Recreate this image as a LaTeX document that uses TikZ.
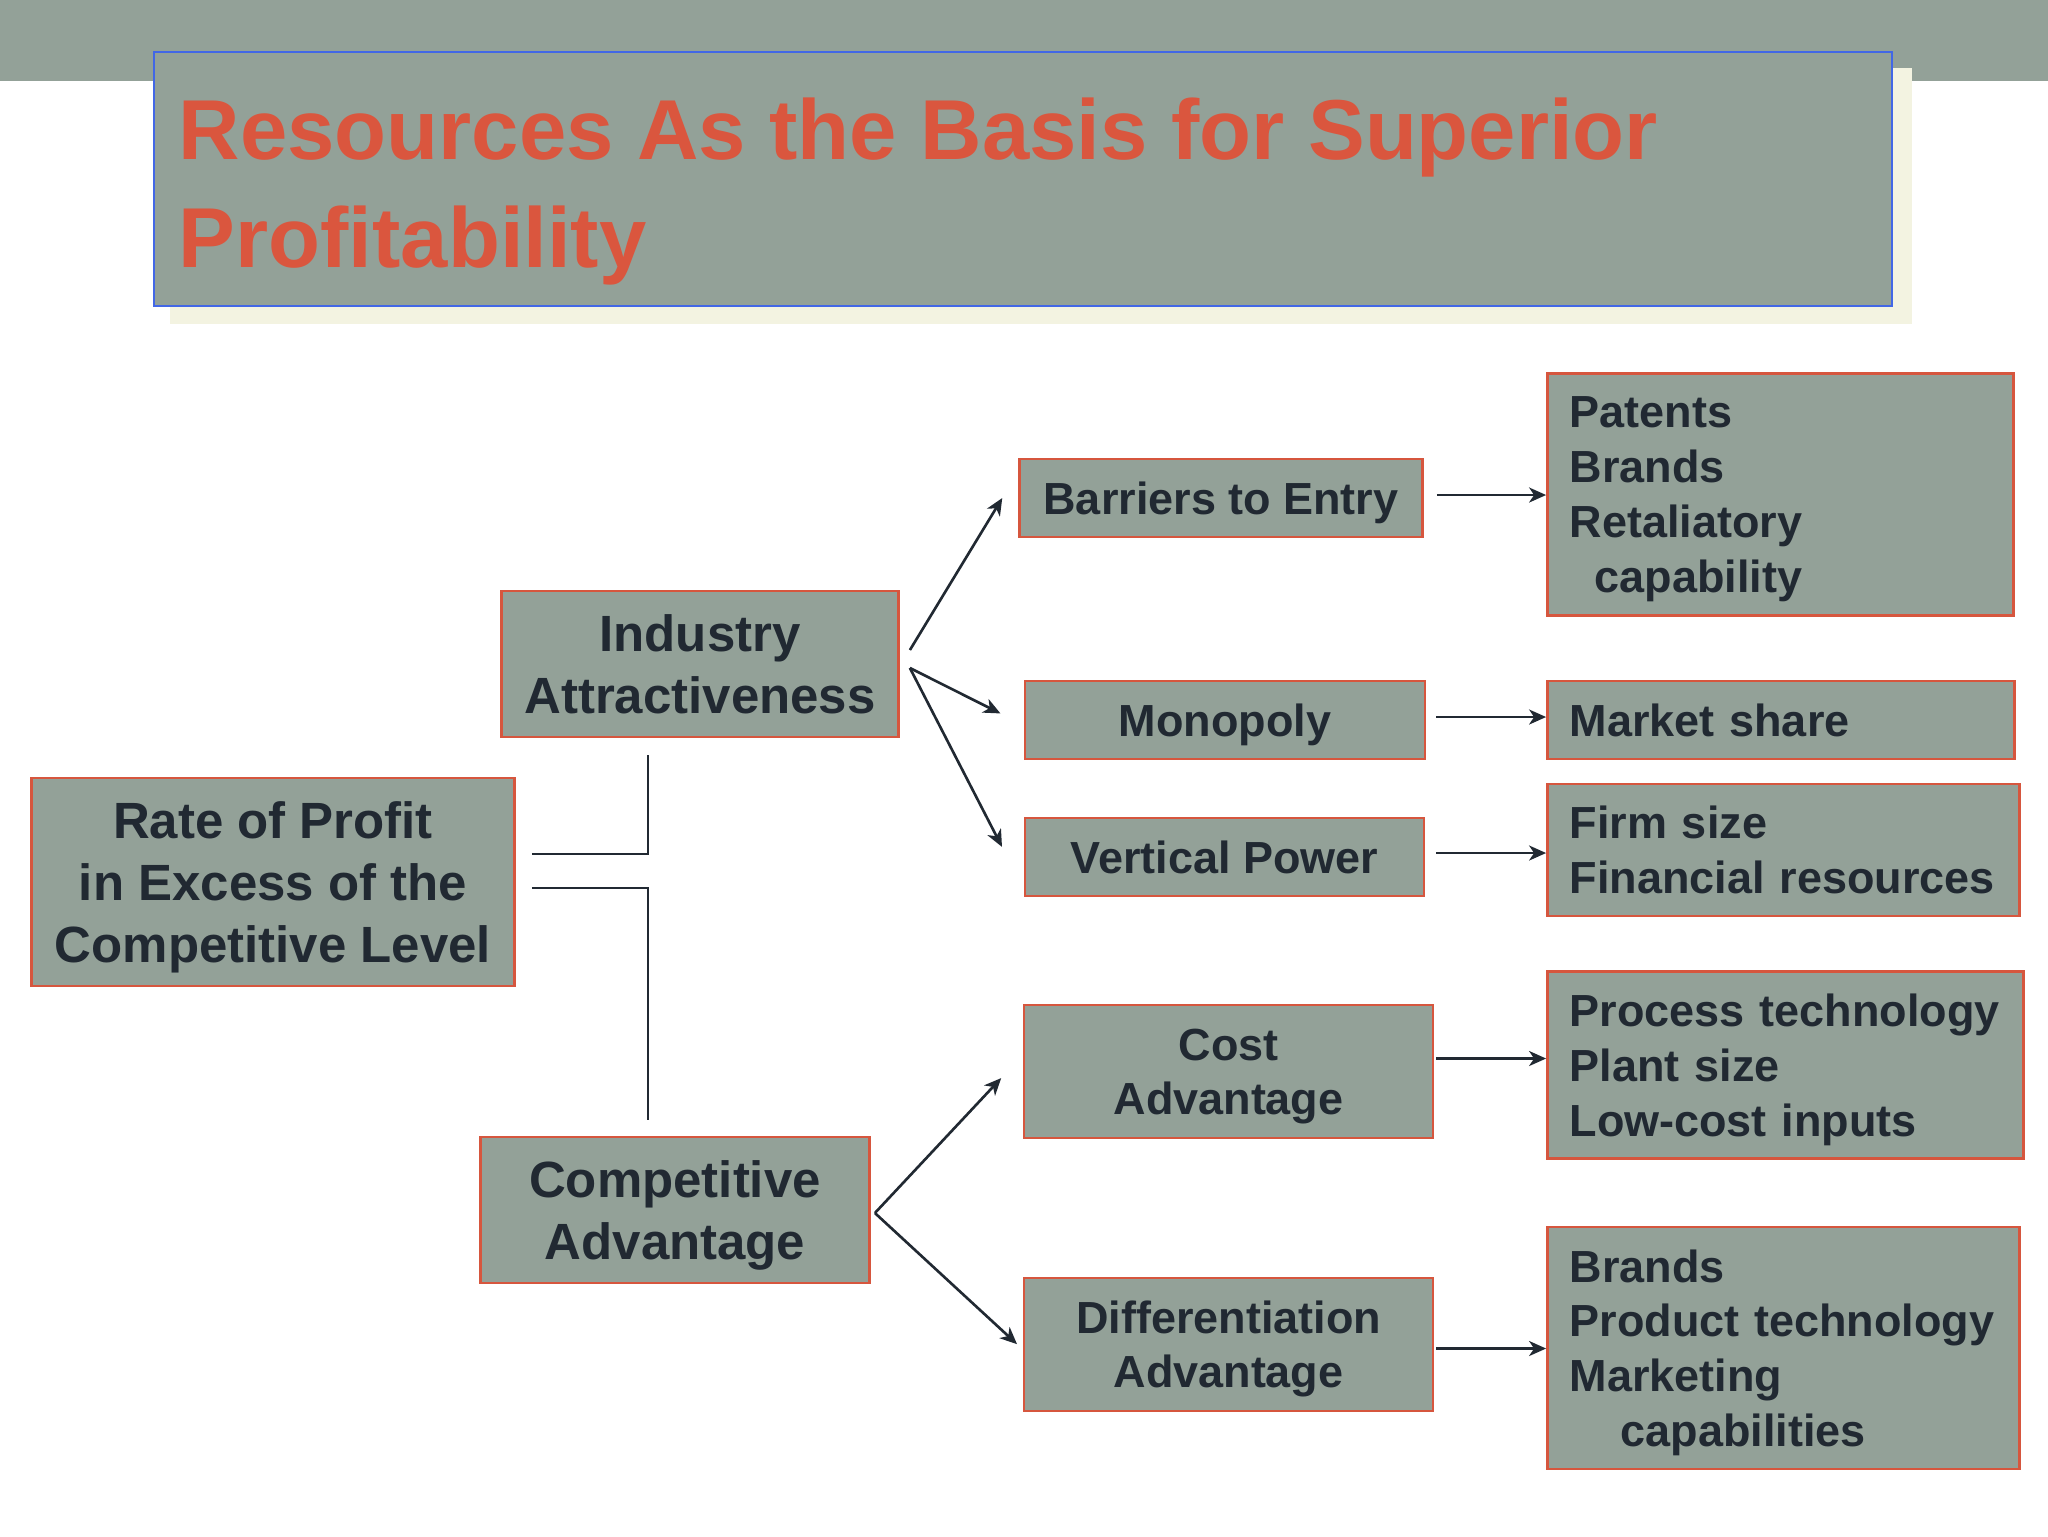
\documentclass[tikz,border=0pt]{standalone}
\usepackage{fontspec}
\setmainfont{Liberation Sans}
\usetikzlibrary{arrows.meta,calc}
\definecolor{slate}{RGB}{147,161,152}
\definecolor{boxred}{RGB}{214,86,62}
\definecolor{titlered}{RGB}{218,86,62}
\definecolor{titleblue}{RGB}{66,103,230}
\definecolor{cream}{RGB}{243,243,225}
\definecolor{ink}{RGB}{33,41,50}

\begin{document}
\begin{tikzpicture}[x=0.1mm,y=-0.1mm,shorten >=1pt,>={Stealth[length=1.7mm,width=1.5mm,inset=0.5mm]}]
			\tikzstyle{box}=[draw=boxred,fill=slate,line width=0.8pt,text=ink,inner sep=0]
			\tikzstyle{bigbox}=[box,align=center,text depth=0pt,font=\fontsize{14.5pt}{17.6pt}\selectfont\bfseries]
			\tikzstyle{midbox}=[box,align=center,text depth=0pt,font=\fontsize{12.8pt}{15.4pt}\selectfont\bfseries]
			\tikzstyle{listbox}=[box,align=left,inner xsep=2.2mm,font=\fontsize{12.8pt}{15.6pt}\selectfont\bfseries]
			\tikzstyle{link}=[draw=ink,line width=0.75pt]
			\useasboundingbox (0,0) rectangle (2048,1536);
			% title banner
			\fill[slate] (0,0) rectangle (2048,81);
			\fill[cream] (170,68) rectangle (1912,324);
			\node[draw=titleblue,fill=slate,line width=0.8pt,minimum width=173.8mm,minimum height=25.4mm,inner sep=0] (T_0) at (1023,179) {};
			\node[anchor=north west,inner sep=0,align=left,text=titlered,font=\fontsize{24.2pt}{30.7pt}\selectfont\bfseries] (T_1) at (178,97) {Resources As the Basis for Superior\\Profitability};
			% boxes
			\node[bigbox,minimum width=48.3mm,minimum height=20.8mm] (P_0) at (273,882) {Rate of Profit\\in Excess of the\\Competitive Level};
			\node[bigbox,minimum width=39.7mm,minimum height=14.6mm] (A_1) at (700,664) {Industry\\Attractiveness};
			\node[bigbox,minimum width=38.9mm,minimum height=14.6mm] (A_2) at (675,1210) {Competitive\\Advantage};
			\node[midbox,minimum width=40.3mm,minimum height=7.8mm] (D_1) at (1221,498) {Barriers to Entry};
			\node[midbox,minimum width=40mm,minimum height=7.8mm] (D_2) at (1225,720) {Monopoly};
			\node[midbox,minimum width=39.9mm,minimum height=7.8mm] (D_3) at (1224.5,857) {Vertical Power};
			\node[midbox,minimum width=40.9mm,minimum height=13.3mm] (D_4) at (1228.5,1071.5) {Cost\\Advantage};
			\node[midbox,minimum width=40.9mm,minimum height=13.3mm] (D_5) at (1228.5,1344.5) {Differentiation\\Advantage};
			\node[listbox,text width=42.2mm,minimum height=24.2mm] (R_1) at (1780.5,494.5) {Patents\\Brands\\Retaliatory\\\hspace*{2.5mm}\smash{capability}};
			\node[listbox,text width=42.3mm,minimum height=7.8mm] (R_2) at (1781,720) {Market share};
			\node[listbox,text width=42.8mm,minimum height=13.2mm] (R_3) at (1783.5,850) {Firm size\\Financial resources};
			\node[listbox,text width=43.2mm,minimum height=18.7mm] (R_4) at (1785.5,1065) {Process technology\\Plant size\\\smash{Low-cost inputs}};
			\node[listbox,text width=42.8mm,minimum height=24.2mm] (R_5) at (1783.5,1348) {Brands\\Product technology\\Marketing\\\hspace*{5.1mm}\smash{capabilities}};
			% connectors
			\draw[link] ($(P_0.east)+(16,-28)$) -| ($(A_1.south)+(-52,13)$);
			\draw[link] ($(P_0.east)+(16,6)$) -| ($(A_2.north)+(-27,-12)$);
			\draw[link,->] ($(A_1.east)+(10,-14)$) -- ($(D_1.west)+(-14,-3)$);
			\draw[link,->] ($(A_1.east)+(10,4)$) -- ($(D_2.west)+(-20,-5)$);
			\draw[link,->] ($(A_1.east)+(10,4)$) -- ($(D_3.west)+(-20,-7)$);
			\draw[link,->] ($(A_2.east)+(4,3)$) -- ($(D_4.west)+(-19,4)$);
			\draw[link,->] ($(A_2.east)+(4,3)$) -- ($(D_5.west)+(-3,2)$);
			\foreach \i/\dx/\dy in {1/13/-3,2/10/-3,3/11/-4,4/2/-13,5/2/4}{
				\coordinate (S_\i) at ($(D_\i.east)+(\dx,\dy)$);
				\draw[link,->,shorten >=0pt] (S_\i) -- (S_\i -| R_\i.west);
			}
			\end{tikzpicture}
\end{document}
